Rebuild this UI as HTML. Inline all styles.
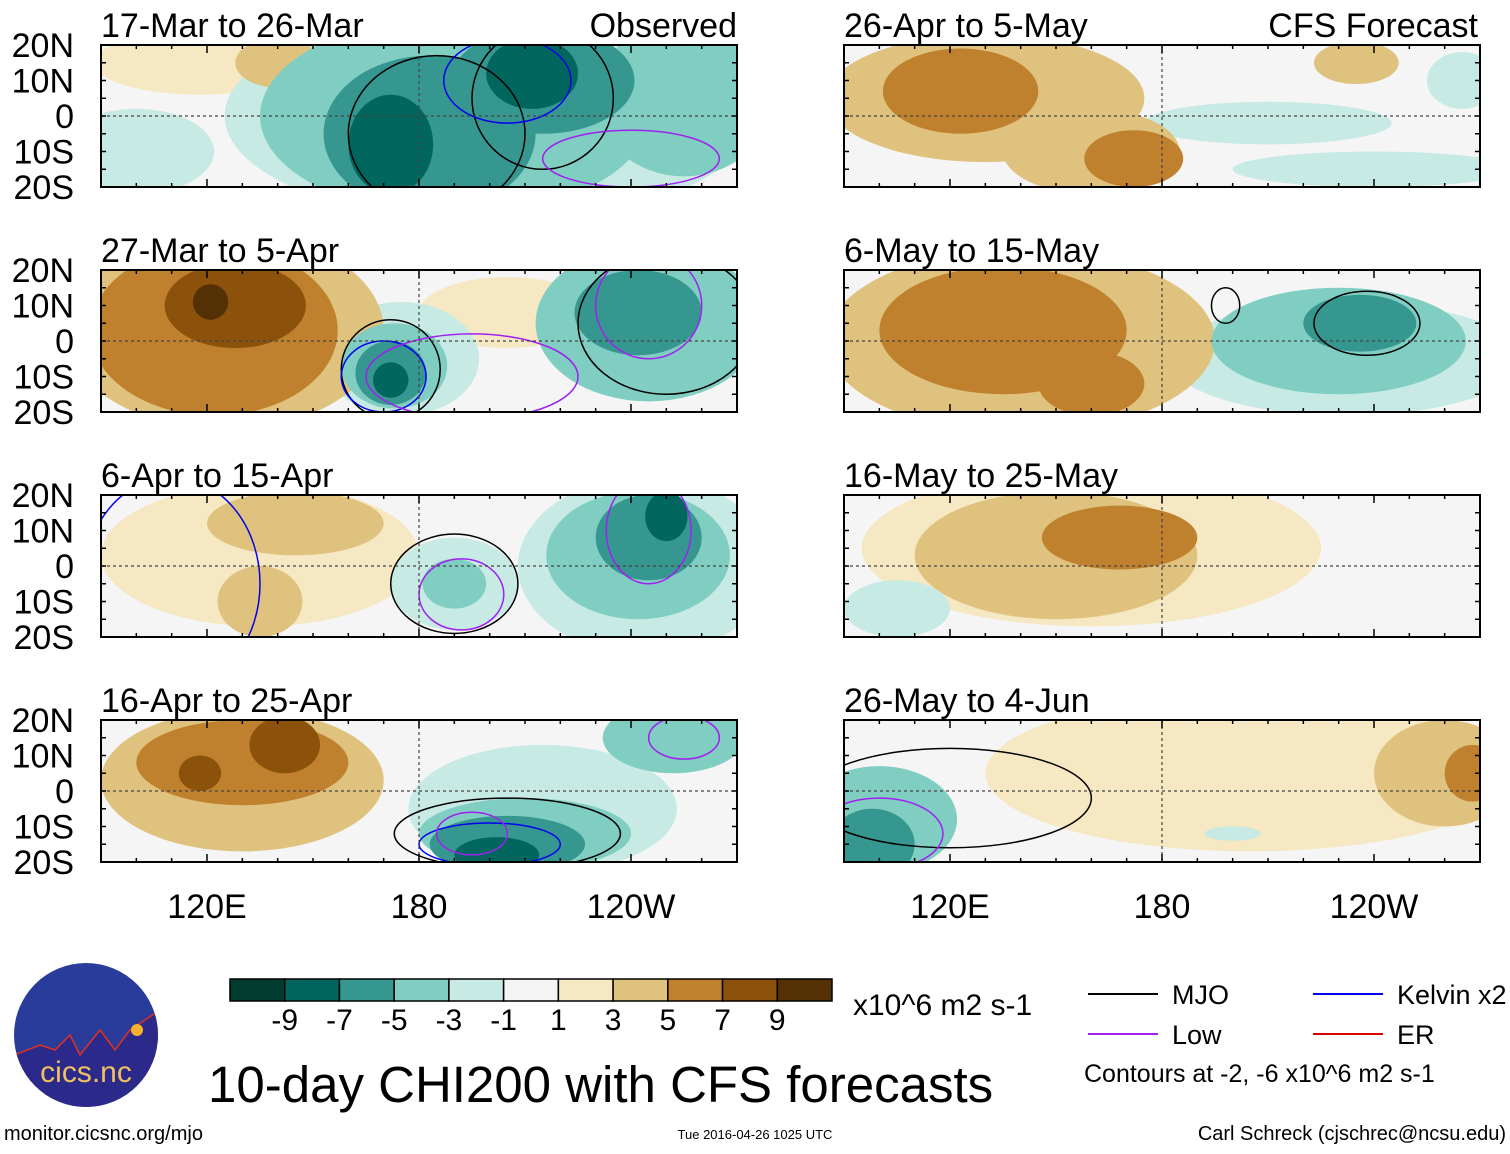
<!DOCTYPE html>
<html><head><meta charset="utf-8">
<style>
body{margin:0;background:#fff;width:1510px;height:1149px;overflow:hidden;font-family:"Liberation Sans",sans-serif;}
svg text{font-family:"Liberation Sans",sans-serif;}
</style></head>
<body>
<svg id="chart" width="1510" height="1149" xmlns="http://www.w3.org/2000/svg">
<defs id="defs"></defs>
<g id="panels"></g>
<g id="legend"></g>
</svg>
<script>
var levels = [-9,-7,-5,-3,-1,1,3,5,7,9];
var colors = ["#003c30","#01665e","#35978f","#80cdc1","#c7eae5","#f5f5f5","#f6e8c3","#dfc27d","#bf812d","#8c510a","#543005"];
var panelTitles = ["17-Mar to 26-Mar","27-Mar to 5-Apr","6-Apr to 15-Apr","16-Apr to 25-Apr","26-Apr to 5-May","6-May to 15-May","16-May to 25-May","26-May to 4-Jun"];
var latTicks = ["20N","10N","0","10S","20S"];
var lonTicks = [120,180,240];
var lonTickLabels = ["120E","180","120W"];
// blobs: [lonCenter, latCenter, halfWidthDeg, halfHeightDeg, value]
var blobs0 = [[118,15,30,9,2],[140,15,12,7,4],[100,-10,22,12,-2],[200,0,75,30,-2],[190,0,55,28,-4],[255,5,25,22,-4],[183,-5,30,22,-6],[215,10,26,15,-6],[172,-8,12,14,-8],[212,12,13,10,-8]];
var blobs1 = [[125,3,45,28,4],[122,3,35,24,6],[128,10,20,12,8],[121,11,5,5,10],[205,8,25,10,2],[175,-5,22,16,-2],[173,-7,15,12,-4],[172,-9,10,9,-6],[172,-11,5,5,-8],[245,5,32,22,-4],[242,8,18,12,-6]];
var blobs2 = [[135,3,45,20,2],[145,12,25,9,4],[135,-10,12,10,4],[190,-5,18,13,-2],[190,-5,9,7,-4],[244,0,36,25,-2],[242,3,26,18,-4],[245,8,15,12,-6],[250,14,6,7,-8]];
var blobs3 = [[130,3,40,20,4],[130,8,30,12,6],[142,13,10,8,8],[118,5,6,5,8],[215,-5,38,18,-2],[210,-12,30,10,-4],[205,-15,22,8,-6],[202,-18,12,5,-8],[252,15,20,10,-4]];
var blobs4 = [[130,5,45,18,4],[123,7,22,12,6],[172,-12,14,8,6],[160,-10,25,12,4],[210,-2,35,6,-2],[265,10,10,8,-2],[235,15,12,6,4],[240,-15,40,5,-2]];
var blobs5 = [[140,0,55,26,4],[135,3,35,18,6],[160,-12,15,9,6],[232,-5,50,16,-2],[230,0,36,15,-4],[236,5,16,8,-6]];
var blobs6 = [[160,5,65,22,2],[150,3,40,18,4],[168,8,22,9,6],[105,-12,15,8,-2]];
var blobs7 = [[205,5,75,22,2],[100,-8,22,15,-4],[98,-15,12,10,-6],[260,5,20,15,4],[268,5,8,8,6],[200,-12,8,2,-2]];
var allBlobs = [blobs0,blobs1,blobs2,blobs3,blobs4,blobs5,blobs6,blobs7];
// contour ellipses: [lon, lat, hw, hh, kind]
var contours0 = [[185,-5,25,22,"mjo"],[215,5,20,20,"mjo"],[205,10,18,12,"kelvin"],[240,-12,25,8,"low"]];
var contours1 = [[172,-8,14,14,"mjo"],[170,-10,12,10,"kelvin"],[195,-10,30,12,"low"],[250,5,25,20,"mjo"],[245,10,15,15,"low"]];
var contours2 = [[190,-5,18,14,"mjo"],[192,-8,12,10,"low"],[110,-5,25,30,"kelvin"],[245,10,12,15,"low"]];
var contours3 = [[205,-12,32,10,"mjo"],[200,-15,20,6,"kelvin"],[195,-12,10,6,"low"],[255,15,10,6,"low"]];
var contours5 = [[238,5,15,9,"mjo"],[198,10,4,5,"mjo"]];
var contours7 = [[120,-2,40,14,"mjo"],[100,-12,18,10,"low"]];
var allContours = [contours0,contours1,contours2,contours3,[],contours5,[],contours7];
var kindColor = {mjo:"#000",kelvin:"#0000ee",low:"#a020f0",er:"#dd0000"};

var NS="http://www.w3.org/2000/svg";
function mk(tag,attrs,parent){var e=document.createElementNS(NS,tag);for(var k in attrs)e.setAttribute(k,attrs[k]);parent.appendChild(e);return e;}
function colorFor(v){var i=0;while(i<levels.length&&v>levels[i])i++;return colors[i];}
var PW=636, PH=142;
var panelX=[101,844], panelY=[45,270,495,720];
var panelsG=document.getElementById('panels');
var defs=document.getElementById('defs');
function drawPanel(p){
  var col=p<4?0:1,row=p%4;
  var x0=panelX[col],y0=panelY[row];
  function xs(lon){return x0+(lon-90)/180*PW;}
  function ys(lat){return y0+(20-lat)/40*PH;}
  var g=mk('g',{},panelsG);
  
  
  var cp=mk('clipPath',{id:'cp'+p},defs);
  mk('rect',{x:x0,y:y0,width:PW,height:PH},cp);
  var inner=mk('g',{'clip-path':'url(#cp'+p+')'},g);
  mk('rect',{x:x0,y:y0,width:PW,height:PH,fill:colors[5]},inner);
  var bs=allBlobs[p].slice().sort(function(a,b){return Math.abs(a[4])-Math.abs(b[4]);});
  bs.forEach(function(b){
    var e=mk('ellipse',{cx:xs(b[0]),cy:ys(b[1]),rx:b[2]/180*PW,ry:b[3]/40*PH,fill:colorFor(b[4])},inner);
    
    
  });
  allContours[p].forEach(function(c){
    var e=mk('ellipse',{cx:xs(c[0]),cy:ys(c[1]),rx:c[2]/180*PW,ry:c[3]/40*PH,fill:'none',stroke:kindColor[c[4]],'stroke-width':1.5},inner);
    
    
  });
  mk('line',{x1:x0,x2:x0+PW,y1:ys(0),y2:ys(0),stroke:'#444','stroke-dasharray':'3,3','stroke-width':1.2},g);
  mk('line',{x1:xs(180),x2:xs(180),y1:y0,y2:y0+PH,stroke:'#444','stroke-dasharray':'3,3','stroke-width':1.2},g);
  mk('rect',{x:x0,y:y0,width:PW,height:PH,fill:'none',stroke:'#000','stroke-width':2},g);
  for(var lon=90;lon<=270;lon+=10){
    var len=(lon%60===0)?8:4;
    mk('line',{x1:xs(lon),x2:xs(lon),y1:y0,y2:y0+len,stroke:'#000','stroke-width':1.5},g);
    mk('line',{x1:xs(lon),x2:xs(lon),y1:y0+PH,y2:y0+PH-len,stroke:'#000','stroke-width':1.5},g);
  }
  for(var lat=-20;lat<=20;lat+=5){
    mk('line',{x1:x0,x2:x0+5,y1:ys(lat),y2:ys(lat),stroke:'#000','stroke-width':1.5},g);
    mk('line',{x1:x0+PW,x2:x0+PW-5,y1:ys(lat),y2:ys(lat),stroke:'#000','stroke-width':1.5},g);
  }
  var t=mk('text',{x:x0,y:y0-8,'font-size':34},g);t.textContent=panelTitles[p];
  
  
  if(col===0){
    latTicks.forEach(function(l,i){var tt=mk('text',{x:74,y:y0+i*PH/4+12,'font-size':34,'text-anchor':'end'},g);tt.textContent=l;
      
      });
  }
  if(row===3){
    lonTicks.forEach(function(l,i){var tt=mk('text',{x:xs(l),y:918,'font-size':34,'text-anchor':'middle'},g);tt.textContent=lonTickLabels[i];
      
      });
  }
}
for(var p=0;p<8;p++){try{drawPanel(p);}catch(err){}}
var t1=mk('text',{x:737,y:37,'font-size':34,'text-anchor':'end'},panelsG);t1.textContent='Observed';


var t2=mk('text',{x:1478,y:37,'font-size':34,'text-anchor':'end'},panelsG);t2.textContent='CFS Forecast';



var lg=document.getElementById('legend');
var cbX=230,cbW=602,cbY=979,cbH=22,bw=cbW/11;
colors.forEach(function(c,i){var r=mk('rect',{x:cbX+i*bw,y:cbY,width:bw,height:cbH,fill:c,stroke:'#000','stroke-width':1.5},lg);
  
  });
levels.forEach(function(v,i){var t=mk('text',{x:cbX+(i+1)*bw,y:1030,'font-size':30,'text-anchor':'middle'},lg);t.textContent=String(v);
  
  });
function txt(x,y,s,str,anchor,name){var t=mk('text',{x:x,y:y,'font-size':s,'text-anchor':anchor||'start'},lg);t.textContent=str;return t;}
txt(853,1015,30,'x10^6 m2 s-1','start','colorbar-units');
txt(208,1102,51,'10-day CHI200 with CFS forecasts','start','main-title');
txt(4,1140,20,'monitor.cicsnc.org/mjo','start','source-url');
txt(755,1139,13,'Tue 2016-04-26 1025 UTC','middle','timestamp');
txt(1506,1140,20,'Carl Schreck (cjschrec@ncsu.edu)','end','author-credit');
var legItems=[[1088,994,'#000','MJO'],[1088,1034,'#a020f0','Low'],[1313,994,'#0000ee','Kelvin x2'],[1313,1034,'#dd0000','ER']];
legItems.forEach(function(l){var ln=mk('line',{x1:l[0],x2:l[0]+70,y1:l[1],y2:l[1],stroke:l[2],'stroke-width':2},lg);
  
  
  txt(l[0]+84,l[1]+10,27,l[3],'start','legend-entry');});
txt(1084,1082,25,'Contours at -2, -6 x10^6 m2 s-1','start','contour-note');
var logo=mk('g',{},lg);


var lcp=mk('clipPath',{id:'logoclip'},defs);
mk('circle',{cx:86,cy:1035,r:72},lcp);
mk('circle',{cx:86,cy:1035,r:72,fill:'#2a3c9a'},logo);
mk('path',{d:'M14,1055 L40,1045 L55,1050 L70,1035 L80,1055 L100,1030 L115,1050 L130,1030 L160,1010 L160,1110 L14,1110Z',fill:'#2b2a8a',stroke:'#e03020','stroke-width':1.5,'clip-path':'url(#logoclip)'},logo);
mk('circle',{cx:137,cy:1030,r:6,fill:'#f5b030'},logo);
var lt=mk('text',{x:86,y:1082,'font-size':30,'text-anchor':'middle',fill:'#f0c060'},logo);lt.textContent='cics.nc';
</script>
</body></html>
